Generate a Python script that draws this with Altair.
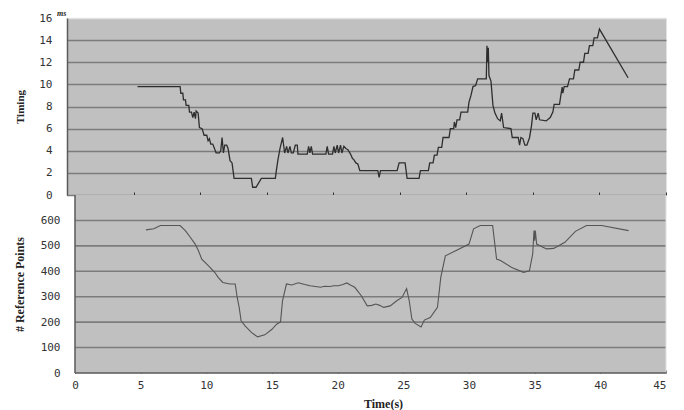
import altair as alt
import pandas as pd

# ---- data ----
timing_t = [5.3, 8.5, 8.55, 8.7, 8.75, 8.9, 8.95, 9.15, 9.2, 9.35, 9.45, 9.55, 9.65, 9.7, 9.85,
            9.95, 10.15, 10.3, 10.5, 10.6, 10.7, 10.8, 10.95, 11.05, 11.2, 11.45, 11.55, 11.65,
            11.75, 11.85, 12.0, 12.1, 12.25, 12.4, 12.55, 13.85, 13.95, 14.2, 14.6, 15.65, 15.75,
            15.85, 16.0, 16.2, 16.35, 16.5, 16.6, 16.75, 16.85, 17.0, 17.15, 17.3, 17.35, 18.05,
            18.15, 18.25, 18.35, 18.45, 19.45, 19.55, 19.65, 19.95, 20.05, 20.15, 20.3, 20.4,
            20.55, 20.65, 20.8, 20.95, 21.1, 21.3, 21.45, 21.55, 21.7, 21.85, 22.0, 23.35, 23.45,
            23.55, 24.8, 24.95, 25.4, 25.55, 26.45, 26.55, 27.15, 27.25, 27.5, 27.6, 27.8, 27.9,
            28.15, 28.25, 28.7, 28.8, 29.05, 29.1, 29.2, 29.3, 29.5, 29.6, 30.1, 30.2, 30.35,
            30.5, 30.7, 30.85, 31.5, 31.55, 31.6, 31.65, 31.7, 31.85, 32.0, 32.15, 32.35, 32.55,
            32.65, 32.8, 33.35, 33.45, 33.9, 34.0, 34.1, 34.25, 34.4, 34.55, 34.75, 34.9, 35.0,
            35.15, 35.25, 35.4, 35.5, 36.0, 36.3, 36.5, 36.6, 37.0, 37.1, 37.2, 37.25, 37.35,
            37.6, 37.75, 38.05, 38.15, 38.45, 38.55, 38.8, 38.9, 39.15, 39.25, 39.5, 39.6, 39.85,
            40.0, 42.15]
timing_ms = [9.8, 9.8, 9.2, 9.2, 8.6, 8.6, 8.1, 8.1, 7.5, 7.5, 7.0, 7.5, 6.9, 7.6, 7.4,
             6.1, 6.0, 5.4, 5.4, 4.9, 5.1, 4.6, 4.6, 4.3, 3.8, 3.8, 4.0, 5.2,
             3.8, 4.5, 4.5, 4.2, 3.1, 2.9, 1.5, 1.5, 0.7, 0.7, 1.5, 1.5, 2.4,
             3.2, 4.2, 5.2, 3.8, 4.4, 3.8, 4.4, 3.8, 3.8, 4.5, 4.5, 3.7, 3.7,
             4.4, 3.8, 4.4, 3.7, 3.7, 4.4, 3.7, 3.7, 4.4, 3.8, 4.5, 3.8,
             4.5, 3.8, 4.4, 4.2, 4.1, 3.7, 3.3, 3.2, 2.9, 2.8, 2.2, 2.2, 1.6,
             2.2, 2.2, 2.9, 2.9, 1.5, 1.5, 2.2, 2.2, 2.9, 2.9, 3.6, 3.6, 4.3,
             4.3, 5.2, 5.2, 6.0, 6.0, 6.6, 6.1, 6.8, 6.8, 7.5, 7.5, 8.4, 9.0,
             9.8, 9.9, 10.5, 10.5, 13.5, 12.0, 13.3, 10.8, 10.3, 8.1, 7.4, 6.9, 6.7,
             7.4, 6.1, 6.0, 5.2, 5.2, 4.5, 5.2, 5.1, 4.5, 4.5, 5.2, 6.3, 7.4,
             7.4, 6.8, 7.4, 6.8, 6.7, 7.0, 7.5, 8.2, 8.2, 9.0, 9.75, 9.2, 9.8,
             9.8, 10.5, 10.5, 11.3, 11.3, 12.0, 12.0, 12.8, 12.8, 13.5, 13.5, 14.2, 14.2,
             15.0, 10.6]

refpts_t = [5.4, 6.0, 6.5, 8.0, 8.4, 8.75, 9.15, 9.4, 9.65, 10.15, 10.65, 10.9, 11.25, 11.8,
            12.2, 12.35, 12.5, 12.65, 12.95, 13.45, 13.9, 14.45, 15.0, 15.35, 15.65, 15.8, 16.1,
            16.5, 17.0, 17.5, 17.9, 18.3, 18.7, 19.0, 19.4, 19.7, 20.05, 20.4, 20.7, 21.0, 21.3,
            21.8, 22.25, 22.6, 22.9, 23.2, 23.5, 24.0, 24.5, 24.9, 25.25, 25.45, 25.65, 25.9,
            26.35, 26.6, 27.05, 27.6, 27.85, 28.2, 29.1, 30.0, 30.35, 30.85, 31.8, 32.1, 32.4,
            33.25, 34.15, 34.6, 34.85, 34.95, 35.0, 35.05, 35.15, 35.9, 36.45, 37.3, 38.1, 38.95,
            40.1, 42.15]
refpts_n = [563, 567, 580, 580, 560, 536, 507, 481, 448, 422, 395, 376, 356, 350,
            350, 297, 258, 205, 185, 159, 142, 150, 172, 192, 201, 284, 350,
            346, 355, 348, 343, 340, 337, 341, 340, 343, 343, 348, 354, 345, 337,
            304, 264, 266, 271, 266, 258, 264, 284, 297, 332, 284, 212, 195,
            181, 208, 218, 258, 376, 461, 484, 507, 567, 580, 580, 448, 442,
            415, 396, 402, 468, 560, 520, 560, 507, 488, 490, 514, 557, 580,
            580, 560]

x_ticks = [0, 5, 10, 15, 20, 25, 30, 35, 40, 45]
timing_ticks = [0, 2, 4, 6, 8, 10, 12, 14, 16]
refpts_ticks = [0, 100, 200, 300, 400, 500, 600]
refpts_max = 700

# ---- styles ----
BG = "#c0c0c0"
GRID = "#7c7c7c"
EDGE = "#e2e2e2"
DARK = "#5a5a5a"
LABEL_FONT = "DejaVu Sans Mono"
TITLE_FONT = "Liberation Serif"

top_df = pd.DataFrame({"t": timing_t, "v": timing_ms, "i": range(len(timing_t))})
bot_df = pd.DataFrame({"t": refpts_t, "v": refpts_n, "i": range(len(refpts_t))})

# ---------------- top panel ----------------
top_line = alt.Chart(top_df).mark_line(color="#2e2e2e", strokeWidth=1.3).encode(
    x=alt.X("t:Q", scale=alt.Scale(domain=[x_ticks[0], x_ticks[-1]], nice=False, zero=False),
            axis=alt.Axis(values=x_ticks, labels=False, domain=False, grid=False,
                          tickSize=3, offset=-3, tickColor="#333333", tickWidth=1, title=None,
                          minExtent=0, maxExtent=0)),
    y=alt.Y("v:Q", scale=alt.Scale(domain=[timing_ticks[0], timing_ticks[-1]], nice=False),
            axis=alt.Axis(values=timing_ticks, ticks=False, grid=True, labelOverlap=False,
                          gridColor={"condition": {"test": "datum.value === 16", "value": EDGE},
                                     "value": GRID},
                          gridWidth=1.6, domain=True, domainColor=DARK, domainWidth=1.5,
                          labelPadding=15, labelFont=LABEL_FONT, labelFontSize=11,
                          labelColor="#333333",
                          title="Timing", titleX=-47, titleBaseline="middle",
                          titleFont=TITLE_FONT, titleFontSize=11, titleFontWeight="bold",
                          titleColor="#222222")),
    order="i:Q",
)

ms_df = pd.DataFrame({"txt": ["ms"]})
ms_text = alt.Chart(ms_df).mark_text(font=TITLE_FONT, fontSize=8, fontStyle="italic",
                                     fontWeight="bold", color="#222222", align="left",
                                     baseline="middle").encode(
    text="txt:N", x=alt.value(-10), y=alt.value(-4))

top = alt.layer(top_line, ms_text).properties(
    width=599, height=177,
    view=alt.ViewBackground(fill=BG, stroke=EDGE, strokeWidth=1),
)

# ---------------- bottom panel ----------------
xmin, xmax = x_ticks[0], x_ticks[-1]
xscale_b = alt.Scale(domain=[-0.609, xmax], nice=False, zero=False)
yscale_b = alt.Scale(domain=[0, refpts_max], nice=False)

x_axis_b = alt.Axis(values=x_ticks, domain=False, grid=False, tickSize=3, offset=-3,
                    tickColor="#333333", labelPadding=6, labelFont=LABEL_FONT,
                    labelFontSize=11, labelColor="#333333", labelOverlap=False,
                    title="Time(s)", titleX=316, titlePadding=8,
                    titleFont=TITLE_FONT, titleFontSize=12, titleFontWeight="bold",
                    titleColor="#222222")
y_axis_b = alt.Axis(values=refpts_ticks, domain=False, ticks=False, grid=False,
                    labelOverlap=False, labelFlush=False,
                    labelPadding=7, labelFont=LABEL_FONT, labelFontSize=11,
                    labelColor="#333333",
                    title="# Reference Points", titleX=-48, titleBaseline="middle",
                    titleFont=TITLE_FONT, titleFontSize=12, titleFontWeight="bold",
                    titleColor="#222222")


def bx(field):
    return alt.X(field, type="quantitative", scale=xscale_b, axis=x_axis_b)


def by(field):
    return alt.Y(field, type="quantitative", scale=yscale_b, axis=y_axis_b)


bg_df = pd.DataFrame({"x0": [xmin], "x1": [xmax], "y0": [0], "y1": [refpts_max]})
bg = alt.Chart(bg_df).mark_rect(fill=BG).encode(x=bx("x0"), x2="x1", y=by("y0"), y2="y1")

grid_df = pd.DataFrame({"y": refpts_ticks[1:], "x0": xmin, "x1": xmax})
grid = alt.Chart(grid_df).mark_rule(color=GRID, strokeWidth=1.6).encode(
    y=by("y"), x=bx("x0"), x2="x1")

left_df = pd.DataFrame({"x": [xmin], "y0": [0], "y1": [refpts_max]})
left_edge = alt.Chart(left_df).mark_rule(color=DARK, strokeWidth=1.5).encode(
    x=bx("x"), y=by("y0"), y2="y1")
right_df = pd.DataFrame({"x": [xmax], "y0": [0], "y1": [refpts_max]})
right_edge = alt.Chart(right_df).mark_rule(color=EDGE, strokeWidth=1).encode(
    x=bx("x"), y=by("y0"), y2="y1")
base_df = pd.DataFrame({"y": [0], "x0": [xmin], "x1": [xmax]})
base_edge = alt.Chart(base_df).mark_rule(color=DARK, strokeWidth=1.6).encode(
    y=by("y"), x=bx("x0"), x2="x1")

bot_line = alt.Chart(bot_df).mark_line(color="#555555", strokeWidth=1.1).encode(
    x=bx("t"), y=by("v"), order="i:Q")

bottom = alt.layer(bg, grid, left_edge, right_edge, base_edge, bot_line).properties(
    width=599, height=178,
    view=alt.ViewBackground(fill="transparent", stroke="transparent"),
)

chart = alt.vconcat(top, bottom, spacing=0, bounds="flush").properties(
    padding={"left": 4, "top": 1, "right": 5, "bottom": 2},
    background="white",
)

chart.save("out.html", embed_options={"renderer": "svg", "actions": False})
